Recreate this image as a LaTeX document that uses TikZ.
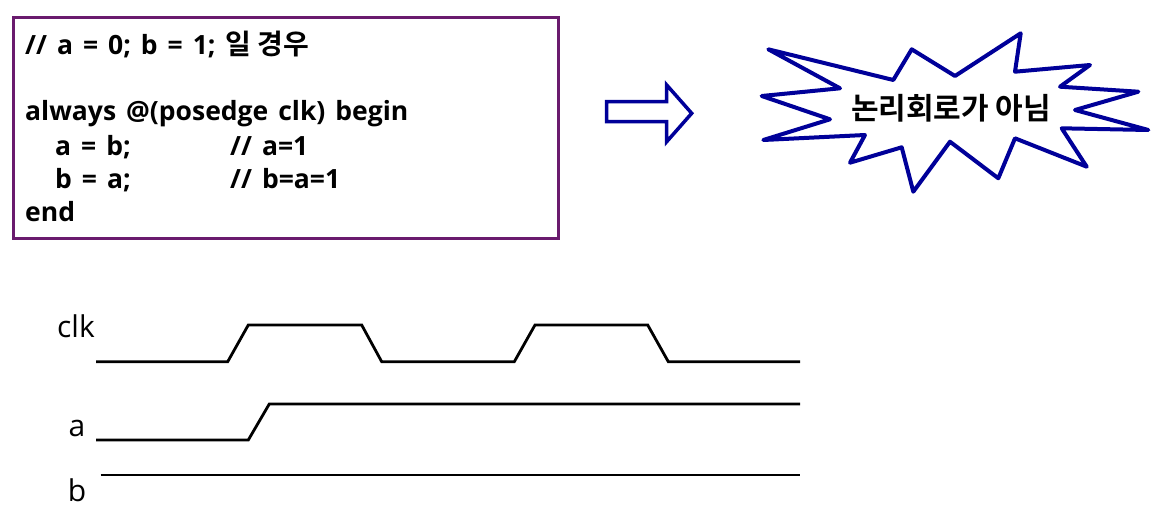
\documentclass[tikz,border=0pt]{standalone}
\usepackage{fontspec}
\setmainfont{Open Sans}
\newfontfamily\codefont{Open Sans}[WordSpace=1.45]
\newfontfamily\krfont{Noto Sans CJK KR}[BoldFont={Noto Sans CJK KR Bold}]
\usetikzlibrary{positioning}
\definecolor{plum}{HTML}{6A1B6E}
\definecolor{navy}{HTML}{000099}

\begin{document}
\begin{tikzpicture}[x=1pt,y=-1pt,
  code/.style={anchor=base west,inner sep=0pt,font=\codefont\bfseries\fontsize{26.5}{30}\selectfont},
  lbl/.style={inner sep=0pt,font=\fontsize{30}{34}\selectfont},
  sig/.style={line width=2.8pt,black},
  burst/.style={draw=navy,line width=4pt,line join=round,fill=white},
  fat/.style={draw=navy,line width=3.5pt,fill=white}
]
\useasboundingbox (0,0) rectangle (1165,508);

% code box
\draw[plum,line width=3pt] (13,18) rectangle (558,238);
\node[code] (c1) at (25,55) {// a = 0; b = 1; {\krfont\bfseries\fontsize{28}{30}\selectfont 일 경우}};
\node[code] (c2) at (25,121) {always @(posedge clk) begin};
\node[code] (c3) at (55,156) {a = b;};
\node[code] (c4) at (55,189) {b = a;};
\node[code] (c5) at (25,221) {end};
\node[code] (m3) at (230,156) {// a=1};
\node[code] (m4) at (230,189) {// b=a=1};

% block arrow
\draw[fat] (606.7,101.7) -- (666.7,101.7) -- (666.7,85) -- (691.7,113.3)
  -- (666.7,141.7) -- (666.7,121.7) -- (606.7,121.7) -- cycle;

% burst
\draw[burst] (768.3,49.3) -- (893.3,80) -- (911.7,49.3) -- (955,76)
  -- (1020.7,33.3) -- (1015,71.7) -- (1090,65) -- (1060,86.7)
  -- (1138.3,91.7) -- (1075,110) -- (1148.3,130) -- (1061.7,128.3)
  -- (1086.7,166.7) -- (1015,138.3) -- (998.3,178.3) -- (950,141.7)
  -- (913.3,191.7) -- (901.7,147.3) -- (850,162.7) -- (865,135)
  -- (763.3,140) -- (830,119.3) -- (761.7,96) -- (840,88.3) -- cycle;
\node[inner sep=0pt,font=\krfont\bfseries\fontsize{30}{34}\selectfont] (msg) at (951,108) {논리회로가 아님};

% timing
\node[lbl] (clk) at (76,326) {clk};
\node[lbl] (a) at (77,428) {a};
\node[lbl] (b) at (77,490) {b};
\draw[sig] (96,361.7) -- (227.7,361.7) -- (248.3,325) -- (361.7,325) -- (381.7,361.7)
  -- (514.3,361.7) -- (535,325) -- (647.7,325) -- (668.3,361.7) -- (800,361.7);
\draw[sig] (96,440) -- (248.3,440) -- (269.3,404) -- (800,404);
\draw[sig] (100.7,475) -- (800,475);
\end{tikzpicture}
\end{document}
